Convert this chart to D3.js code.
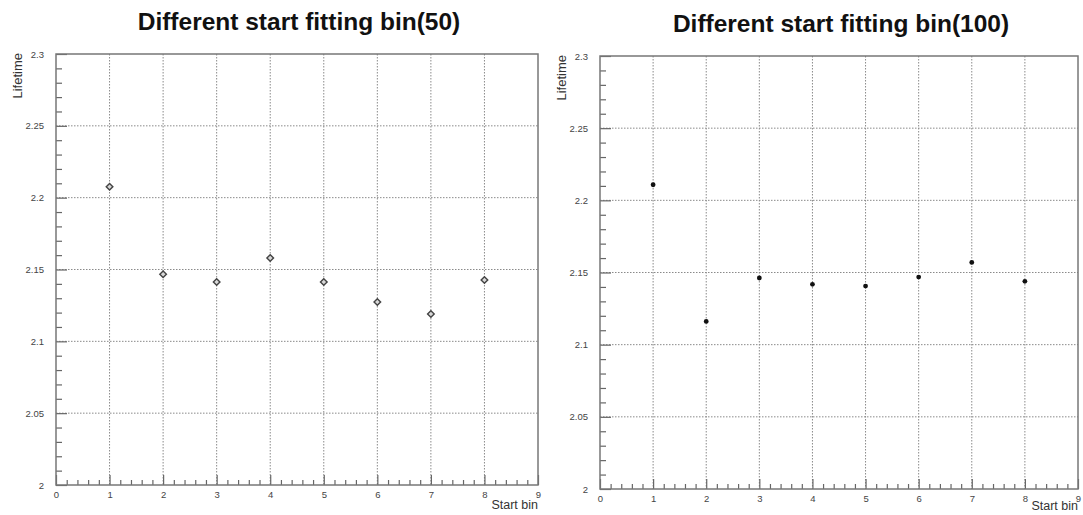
<!DOCTYPE html>
<html>
<head>
<meta charset="utf-8">
<script src="https://cdn.jsdelivr.net/npm/d3@7"></script>
<style>
  body { margin: 0; background: #fff; }
  svg { display: block; font-family: "Liberation Sans", Arial, sans-serif; }
</style>
</head>
<body>
<div id="chart"></div>
<script>
// start bins and fitted lifetimes
const startBins = [1, 2, 3, 4, 5, 6, 7, 8];
const lifetime50 = [2.2076, 2.1467, 2.1413, 2.158, 2.1413, 2.1274, 2.119, 2.1427];
const lifetime100 = [2.2108, 2.1161, 2.1462, 2.1418, 2.1406, 2.1468, 2.157, 2.1439];
const xTicks = [0, 1, 2, 3, 4, 5, 6, 7, 8, 9];
const yTicks = [2, 2.05, 2.1, 2.15, 2.2, 2.25, 2.3];
const titles = ["Different start fitting bin(50)", "Different start fitting bin(100)"];

const width = 1083, height = 515;

const svg = d3.select("#chart")
    .append("svg")
    .attr("width", width)
    .attr("height", height);

const panels = [
    { title: titles[0], values: lifetime50, left: 56, right: 538, top: 54, bottom: 485, titleY: 30, nameY: 509, marker: "open" },
    { title: titles[1], values: lifetime100, left: 600, right: 1078, top: 56, bottom: 489, titleY: 32, nameY: 510, marker: "dot" }
];

panels.forEach(p => {
    const g = svg.append("g");

    const x = d3.scaleLinear().domain([0, 9]).range([p.left, p.right]);
    const y = d3.scaleLinear().domain([2, 2.3]).range([p.bottom, p.top]);

    // dotted grid at major ticks
    g.append("g")
        .selectAll("line")
        .data(xTicks.slice(1, -1))
        .join("line")
        .attr("x1", d => x(d)).attr("x2", d => x(d))
        .attr("y1", p.top).attr("y2", p.bottom)
        .attr("stroke", "#8a8a8a")
        .attr("stroke-width", 1)
        .attr("stroke-dasharray", "1.5,1.5");

    g.append("g")
        .selectAll("line")
        .data(yTicks.slice(1, -1))
        .join("line")
        .attr("x1", p.left).attr("x2", p.right)
        .attr("y1", d => y(d)).attr("y2", d => y(d))
        .attr("stroke", "#8a8a8a")
        .attr("stroke-width", 1)
        .attr("stroke-dasharray", "1.5,1.5");

    // minor ticks
    const yMinor = d3.range(2.01, 2.3, 0.01).filter(v => Math.abs(v * 20 - Math.round(v * 20)) > 1e-6);
    const xMinor = d3.range(0.2, 9, 0.2).filter(v => Math.abs(v - Math.round(v)) > 1e-6);

    g.append("g")
        .attr("transform", `translate(${p.left},0)`)
        .call(d3.axisLeft(y).tickValues(yMinor).tickSize(-6).tickFormat(""))
        .call(a => a.select(".domain").remove())
        .selectAll("line").attr("stroke", "#666").attr("stroke-width", 1.2);

    g.append("g")
        .attr("transform", `translate(0,${p.bottom})`)
        .call(d3.axisBottom(x).tickValues(xMinor).tickSize(-5).tickFormat(""))
        .call(a => a.select(".domain").remove())
        .selectAll("line").attr("stroke", "#666").attr("stroke-width", 1.2);

    // major ticks with labels
    const yAxis = g.append("g")
        .attr("transform", `translate(${p.left},0)`)
        .call(d3.axisLeft(y).tickValues(yTicks).tickSize(-11).tickPadding(12).tickFormat(d3.format("")));
    yAxis.select(".domain").remove();
    yAxis.selectAll("line").attr("stroke", "#666").attr("stroke-width", 1.2);
    yAxis.selectAll("text").attr("fill", "#444").attr("font-size", 9.5).attr("font-family", "Liberation Sans, Arial, sans-serif");

    const xAxis = g.append("g")
        .attr("transform", `translate(0,${p.bottom})`)
        .call(d3.axisBottom(x).tickValues(xTicks).tickSize(-10).tickPadding(6).tickFormat(d3.format("d")));
    xAxis.select(".domain").remove();
    xAxis.selectAll("line").attr("stroke", "#666").attr("stroke-width", 1.2);
    xAxis.selectAll("text").attr("fill", "#444").attr("font-size", 9.5).attr("font-family", "Liberation Sans, Arial, sans-serif");

    // frame
    g.append("rect")
        .attr("x", p.left).attr("y", p.top)
        .attr("width", p.right - p.left).attr("height", p.bottom - p.top)
        .attr("fill", "none")
        .attr("stroke", "#777")
        .attr("stroke-width", 1.5);

    // markers
    const pts = startBins.map((b, i) => ({ b, v: p.values[i] }));
    if (p.marker === "open") {
        g.append("g")
            .selectAll("path")
            .data(pts)
            .join("path")
            .attr("transform", d => `translate(${x(d.b)},${y(d.v)}) rotate(45)`)
            .attr("d", d3.symbol(d3.symbolSquare, 22))
            .attr("fill", "#d8d8d8")
            .attr("stroke", "#444")
            .attr("stroke-width", 1.4);
    } else {
        g.append("g")
            .selectAll("circle")
            .data(pts)
            .join("circle")
            .attr("cx", d => x(d.b))
            .attr("cy", d => y(d.v))
            .attr("r", 2.4)
            .attr("fill", "#111");
    }

    // titles and axis names
    svg.append("text")
        .attr("x", (p.left + p.right) / 2 + 2)
        .attr("y", p.titleY)
        .attr("text-anchor", "middle")
        .attr("font-size", 24.5)
        .attr("font-weight", "bold")
        .attr("fill", "#111")
        .text(p.title);

    svg.append("text")
        .attr("transform", `translate(${p.left - 34},${p.top - 1}) rotate(-90)`)
        .attr("text-anchor", "end")
        .attr("font-size", 13)
        .attr("fill", "#333")
        .text("Lifetime");

    svg.append("text")
        .attr("x", p.right)
        .attr("y", p.nameY)
        .attr("text-anchor", "end")
        .attr("font-size", 12.5)
        .attr("fill", "#333")
        .text("Start bin");
});
</script>
</body>
</html>
